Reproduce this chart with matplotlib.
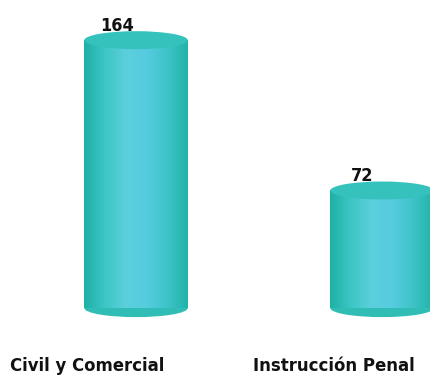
import numpy as np
import matplotlib.pyplot as plt
from matplotlib.patches import Ellipse
from matplotlib.colors import LinearSegmentedColormap

categories = ["Civil y Comercial", "Instrucción Penal"]
values = [164, 72]

fig = plt.figure(figsize=(4.30, 3.79), dpi=100)
ax = fig.add_axes([0, 0.187, 1, 0.707])
ax.set_xlim(-0.553, 1.195)
ax.set_ylim(0, 164)
ax.axis('off')

# cylinder shading, dark edges, light centre
cyl = LinearSegmentedColormap.from_list(
    'cyl', ['#1fb0a6', '#3cc6c4', '#5ccfdc', '#56cce0', '#3ec4c8', '#22b2a8'])
grad = np.linspace(0, 1, 256).reshape(1, -1)

width = 0.42
ell_h = 11
x = np.arange(len(values))
bars = ax.bar(x, values, width=width, color='none', edgecolor='none')

for xi, v, rect in zip(x, values, bars):
    # rounded bottom
    ax.add_patch(Ellipse((xi, 0), width, ell_h, facecolor='#30bdb5',
                         edgecolor='none', clip_on=False, zorder=1))
    im = ax.imshow(grad, cmap=cyl, aspect='auto', zorder=2,
                   extent=(xi - width / 2, xi + width / 2, 0, v))
    im.set_clip_path(rect)
    # top cap
    ax.add_patch(Ellipse((xi, v), width, ell_h, facecolor='#35c2bc',
                         edgecolor='none', clip_on=False, zorder=3))
    ax.annotate(str(v), (xi, v), xytext=(-14, 4), textcoords='offset points',
                ha='center', va='bottom', fontsize=13, fontweight='bold',
                stretch='condensed', color='#111111',
                annotation_clip=False, zorder=4)

ax.set_xlim(-0.553, 1.195)
ax.set_ylim(0, 164)

# category labels, sitting a bit left of the bars
for xi, name in zip(x, categories):
    ax.annotate(name, (xi, 0), xytext=(-35, -42), textcoords='offset points',
                ha='center', va='center', fontsize=13.2, fontweight='bold',
                stretch='condensed', family='DejaVu Sans',
                color='#111111', annotation_clip=False)

fig.savefig('out.png', dpi=100)
